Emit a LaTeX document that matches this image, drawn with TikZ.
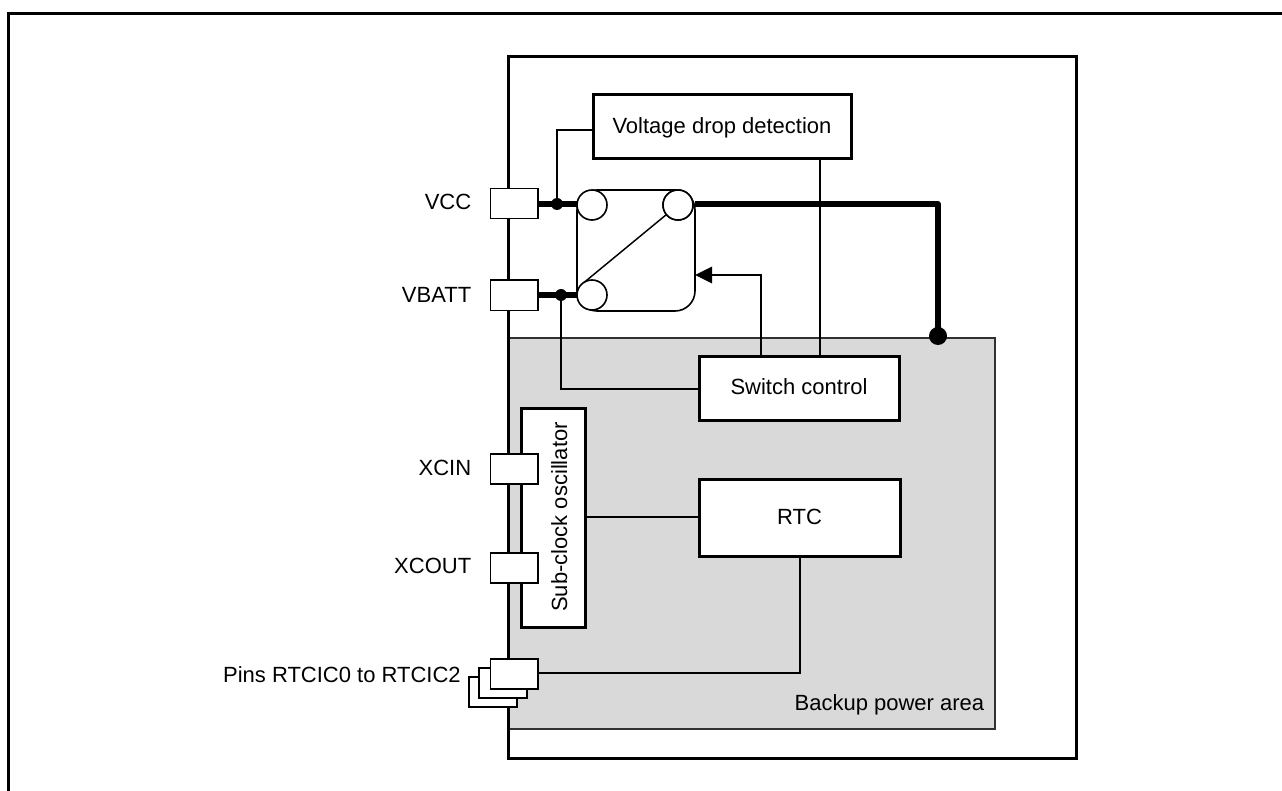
\documentclass[tikz,border=0pt]{standalone}
\usepackage{fontspec}
\setmainfont{Liberation Sans}
\begin{document}
\begin{tikzpicture}[x=0.75pt,y=-0.75pt,
  pinbox/.style={draw=black,line width=1.25pt,fill=white},
  wire/.style={draw=black,line width=1.05pt},
  power/.style={draw=black,line width=3.9pt},
  lbl/.style={inner sep=0pt,anchor=base,font=\fontsize{16.5}{19}\selectfont},
  jdot/.style={circle,fill=black,inner sep=0pt,minimum size=#1},
  sw/.style={circle,draw=black,line width=1.2pt,fill=white,inner sep=0pt,minimum size=22.5pt}]
\useasboundingbox (0,0) rectangle (1282,791);
% page frame
\coordinate (fa) at (8.5,791);
\coordinate (fb) at (8.5,13.5);
\coordinate (fc) at (1282,13.5);
\draw[line width=2.25pt,line join=miter] (fa) -- (fb) -- (fc);
% chip
\draw[line width=2.25pt,fill=white] (508,57) rectangle (1076,758);
\fill[fill={rgb,255:red,217;green,217;blue,217}] (509,338) rectangle (995,729);
\draw[line width=1.2pt,draw={rgb,255:red,50;green,50;blue,50}] (509,338) -- (995,338) -- (995,729) -- (509,729);
\draw[line width=2.25pt] (508,57) -- (508,758);
% blocks
\draw[line width=2.25pt,fill=white] (593.5,95) rectangle (851,159);
\node[lbl] (vd) at (722,134) {Voltage drop detection};
\coordinate (vdL) at (593.5,130);
\coordinate (vdB) at (820,159);
\draw[line width=2.25pt,fill=white] (699,357) rectangle (899.5,421);
\node[lbl] (sc) at (799,395) {Switch control};
\coordinate (scT1) at (761,357);
\coordinate (scT2) at (820,357);
\coordinate (scL) at (699,389);
\draw[line width=2.25pt,fill=white] (699,479.5) rectangle (900,556);
\node[lbl] (rtc) at (799.5,524) {RTC};
\coordinate (rtcL) at (699,517);
\coordinate (rtcB) at (800,556);
\draw[line width=2.25pt,fill=white] (521,409) rectangle (585,627);
\node[lbl,rotate=90] (osc) at (567,517) {Sub-clock oscillator};
\coordinate (oscR) at (585,517);
% switch
\draw[line width=1.2pt,fill=white,rounded corners=15pt] (577,190) rectangle (695,311);
\node[sw] (s1) at (592,205) {};
\node[sw] (s2) at (678,205) {};
\node[sw] (s3) at (592,295) {};
\draw[line width=1.1pt] (584,282.5) -- (s2);
\node[sw] (s2b) at (678,205) {};
\coordinate (swR) at (695,275);
% pins
\draw[pinbox] (490.5,188.5) rectangle (538,218.5);
\draw[pinbox] (490.5,280) rectangle (538,310.5);
\draw[pinbox] (490.5,454) rectangle (538,484);
\draw[pinbox] (490.5,553) rectangle (538,583);
\draw[pinbox] (469,677) rectangle (517,707);
\draw[pinbox] (479,668) rectangle (527,698);
\draw[pinbox] (490.5,659) rectangle (538,689);
\coordinate (pVcc) at (538,204);
\coordinate (pVb) at (538,295);
\coordinate (pRtc) at (538,673);
% wires
\coordinate (j1) at (557,204);
\coordinate (j2) at (561,295);
\coordinate (j3) at (938,336);
\draw[power] (pVcc) -- (577,204);
\draw[power] (pVb) -- (577,295);
\draw[power,line join=round] (695,204) -- (938,204) -- (j3);
\draw[wire] (vdL) -| (j1);
\draw[wire] (j2) |- (scL);
\draw[wire] (vdB) -- (scT2);
\draw[wire] (scT1) -- (761,275) -- (710,275);
\fill (swR) -- (712,266.5) -- (712,283.5) -- cycle;
\draw[wire] (oscR) -- (rtcL);
\draw[wire] (rtcB) |- (pRtc);
\node[jdot=9pt] (dot1) at (j1) {};
\node[jdot=9pt] (dot2) at (j2) {};
\node[jdot=13.5pt] (dot3) at (j3) {};
% labels
\node[lbl,anchor=base east] (lvcc) at (471.5,210) {VCC};
\node[lbl,anchor=base east] (lvb) at (471.5,303) {VBATT};
\node[lbl,anchor=base east] (lxi) at (471.5,475.5) {XCIN};
\node[lbl,anchor=base east] (lxo) at (471.5,573.5) {XCOUT};
\node[lbl,anchor=base east] (lrt) at (461,682.5) {Pins RTCIC0 to RTCIC2};
\node[lbl,anchor=base east] (lbk) at (984.5,710.5) {Backup power area};
\end{tikzpicture}
\end{document}
